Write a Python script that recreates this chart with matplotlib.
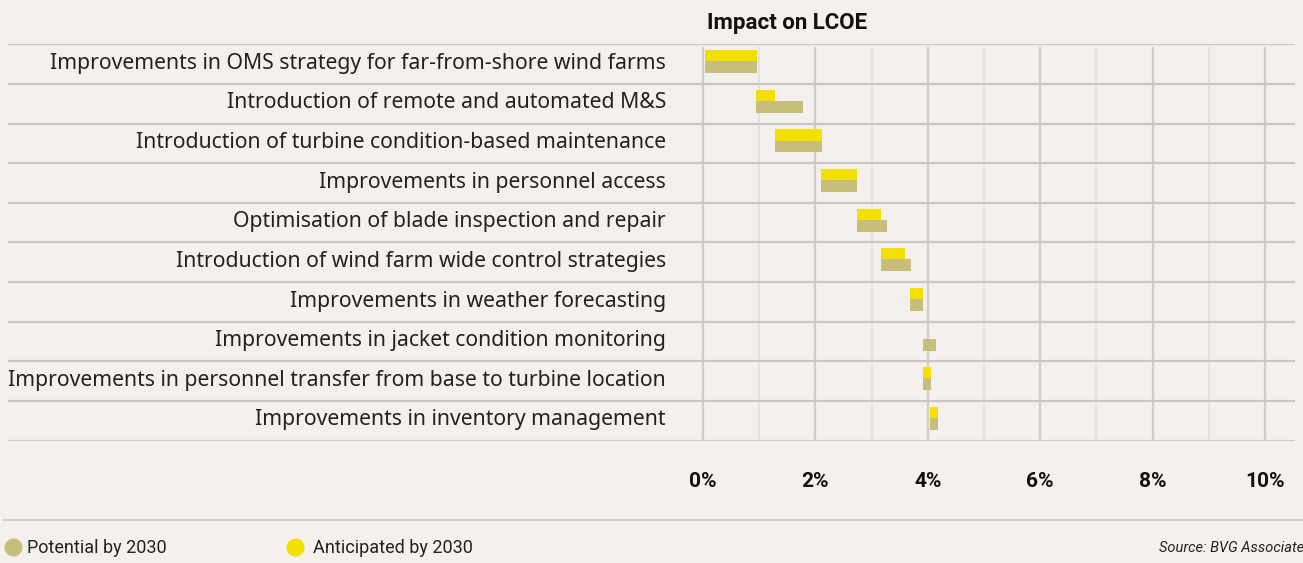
import matplotlib
matplotlib.use('Agg')
import matplotlib.pyplot as plt
from matplotlib.lines import Line2D

# data (% impact on LCOE)
categories = [
    "Improvements in OMS strategy for far-from-shore wind farms",
    "Introduction of remote and automated M&S",
    "Introduction of turbine condition-based maintenance",
    "Improvements in personnel access",
    "Optimisation of blade inspection and repair",
    "Introduction of wind farm wide control strategies",
    "Improvements in weather forecasting",
    "Improvements in jacket condition monitoring",
    "Improvements in personnel transfer from base to turbine location",
    "Improvements in inventory management",
]
starts = [0.03, 0.94, 1.28, 2.10, 2.74, 3.17, 3.68, 3.91, 3.91, 4.04]
anticipated = [0.93, 0.34, 0.84, 0.64, 0.43, 0.42, 0.23, 0.0, 0.15, 0.14]
potential = [0.93, 0.84, 0.84, 0.64, 0.53, 0.53, 0.23, 0.24, 0.15, 0.14]
xticks = [0, 2, 4, 6, 8, 10]
xtick_labels = ["0%", "2%", "4%", "6%", "8%", "10%"]

BG = "#f3f0ed"
TAN = "#c8be7c"
YELLOW = "#f4e000"
ROW_LINE = "#cec4c0"
MAJOR = "#d3cbc7"
MINOR = "#e8e2de"

plt.rcParams['font.family'] = ['Roboto', 'DejaVu Sans']

W, H = 1303, 563
fig = plt.figure(figsize=(W / 100, H / 100), dpi=100, facecolor=BG)

top_px, bot_px = 44.3, 440.5
left_px, right_px = 8, 1295
ax = fig.add_axes([left_px / W, 1 - bot_px / H, (right_px - left_px) / W, (bot_px - top_px) / H])
ax.set_facecolor(BG)
zero_px, pct_px = 703, 56.2
ax.set_xlim((left_px - zero_px) / pct_px, (right_px - zero_px) / pct_px)
ax.set_ylim(len(categories), 0)
for s in ax.spines.values():
    s.set_visible(False)

# vertical grid
for v in range(0, 11):
    ax.vlines(v, 0.07, len(categories), color=MAJOR if v % 2 == 0 else MINOR, lw=1.6, zorder=1)
# row separators
for r in range(len(categories) + 1):
    ax.axhline(r, color=ROW_LINE, lw=1.6, zorder=1)

rows = range(len(categories))
ax.barh([r + 0.29 for r in rows], anticipated, left=starts, height=0.29,
        color=YELLOW, zorder=3)
ax.barh([r + 0.58 for r in rows], potential, left=starts, height=0.30,
        color=TAN, zorder=3)

for r, label in zip(rows, categories):
    ax.text(-0.66, r + 0.48, label, ha='right', va='center', fontsize=15.25,
            family=['Noto Sans', 'DejaVu Sans'], color="#222222", zorder=4)

ax.set_yticks([])
ax.set_xticks(xticks)
ax.set_xticklabels(xtick_labels, fontsize=15, fontweight='bold', color="#111111")
ax.tick_params(axis='x', length=0, pad=23)

fig.text(787 / W, 1 - 23 / H, "Impact on LCOE", ha='center', va='center',
         fontsize=16, fontweight='bold', color="#111111")

# bottom separator and legend
fig.add_artist(Line2D([4 / W, 1], [1 - 519.5 / H] * 2, color="#d6cec9", lw=1.6))
fig.add_artist(Line2D([13.5 / W], [1 - 547 / H], marker='o', markersize=13,
                      color=TAN, markeredgewidth=0))
fig.text(27 / W, 1 - 548 / H, "Potential by 2030", ha='left', va='center',
         fontsize=13, color="#222222")
fig.add_artist(Line2D([295 / W], [1 - 547 / H], marker='o', markersize=13,
                      color=YELLOW, markeredgewidth=0))
fig.text(313 / W, 1 - 548 / H, "Anticipated by 2030", ha='left', va='center',
         fontsize=13, color="#222222")
fig.text(1304 / W, 1 - 548 / H, "Source: BVG Associate", ha='right', va='center',
         fontsize=10.5, style='italic', color="#222222")

fig.savefig("out.png", dpi=100, facecolor=BG)
